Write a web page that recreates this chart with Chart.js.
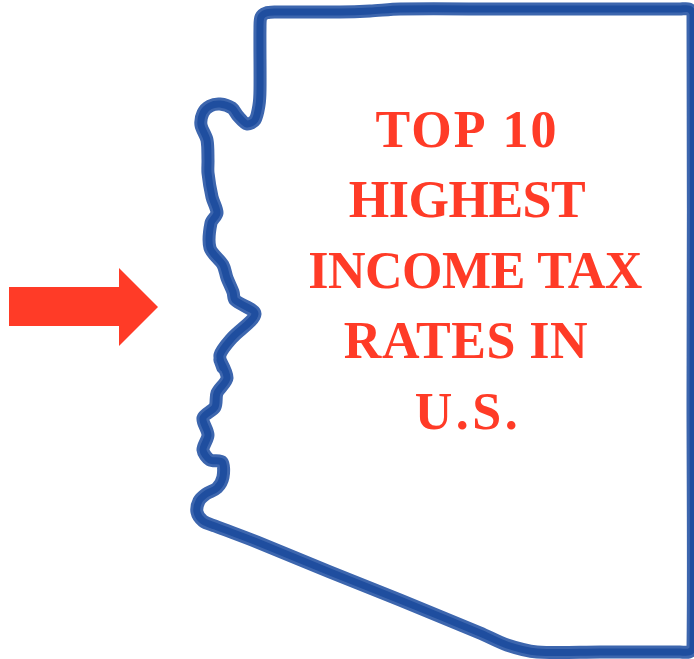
<!DOCTYPE html>
<html>
<head>
<meta charset="utf-8">
<title>Top 10 highest income tax rates in U.S.</title>
<script src="https://cdn.jsdelivr.net/npm/chart.js@4"></script>
<style>
    body { margin: 0; background: #fff; }
    canvas { display: block; }
</style>
</head>
<body>
<canvas id="mapChart" width="694" height="659"></canvas>
<script>
// state outline, clockwise from the top edge
const outlineX = [300, 340, 370, 400, 500, 600, 680, 689, 693, 693, 693, 689, 680, 600, 537, 507, 480, 400, 330, 257, 215, 203, 197, 199, 206, 217, 223, 222, 210, 203, 208, 203, 215, 217, 227, 220, 223, 220, 232, 255, 235, 233, 227, 223, 210, 211, 217, 212, 208, 208, 207, 201, 203, 210, 220, 232, 238, 247, 255, 259, 260, 260, 261, 266, 275, 300];
const outlineY = [12, 12, 11, 9, 9, 9, 9, 9, 14, 400, 648, 652, 652, 652, 652, 645, 633, 600, 572, 542, 526, 521, 512, 501, 494, 488, 477, 462, 460, 450, 435, 418, 407, 393, 378, 360, 368, 355, 338, 314, 300, 292, 278, 265, 248, 223, 213, 197, 173, 160, 140, 125, 113, 106, 104, 108, 116, 124, 120, 105, 90, 27, 17, 13, 12, 12];

const arrowX = [9, 119, 119, 158, 119, 119, 9, 9];
const arrowY = [287, 287, 268, 307, 346, 326, 326, 287];

const titleLines = ['TOP 10', 'HIGHEST', 'INCOME TAX', 'RATES IN', 'U.S.'];
const titleCenters = [467, 467, 475, 466, 468];
const titleBaselines = [147, 217, 288, 358, 429];

function toPoints(xs, ys) {
    return xs.map((x, i) => ({ x: x, y: ys[i] }));
}

// title text drawn on top of the marks, short lines are spaced out a bit more
const lineSpacing = [2, -0.5, -0.5, 0.5, 3.5];
const titlePlugin = {
    id: 'titleLines',
    afterDatasetsDraw(chart) {
        const ctx = chart.ctx;
        ctx.save();
        ctx.fillStyle = '#ff3b27';
        ctx.font = 'bold 52px "Liberation Serif"';
        ctx.textAlign = 'center';
        ctx.textBaseline = 'alphabetic';
        titleLines.forEach((line, i) => {
            ctx.letterSpacing = lineSpacing[i] + 'px';
            ctx.fillText(line, chart.scales.x.getPixelForValue(titleCenters[i]), chart.scales.y.getPixelForValue(titleBaselines[i]));
        });
        ctx.restore();
    }
};

new Chart(document.getElementById('mapChart'), {
    type: 'scatter',
    data: {
        datasets: [
            {
                label: 'Arrow',
                data: toPoints(arrowX, arrowY),
                showLine: true,
                fill: 'shape',
                backgroundColor: '#ff3b27',
                borderColor: '#ff3b27',
                borderWidth: 0,
                pointRadius: 0
            },
            {
                label: 'Outline core',
                data: toPoints(outlineX, outlineY),
                showLine: true,
                borderColor: '#1f4e9f',
                borderWidth: 7,
                borderCapStyle: 'round',
                borderJoinStyle: 'round',
                tension: 0.3,
                pointRadius: 0
            },
            {
                label: 'Outline edge',
                data: toPoints(outlineX, outlineY),
                showLine: true,
                borderColor: '#3d66ae',
                borderWidth: 13,
                borderCapStyle: 'round',
                borderJoinStyle: 'round',
                tension: 0.3,
                pointRadius: 0
            }
        ]
    },
    options: {
        responsive: false,
        animation: false,
        layout: { padding: 0 },
        plugins: {
            legend: { display: false },
            tooltip: { enabled: false }
        },
        scales: {
            x: { type: 'linear', min: 0, max: 694, display: false },
            y: { type: 'linear', min: 0, max: 659, reverse: true, display: false }
        }
    },
    plugins: [titlePlugin]
});
</script>
</body>
</html>
